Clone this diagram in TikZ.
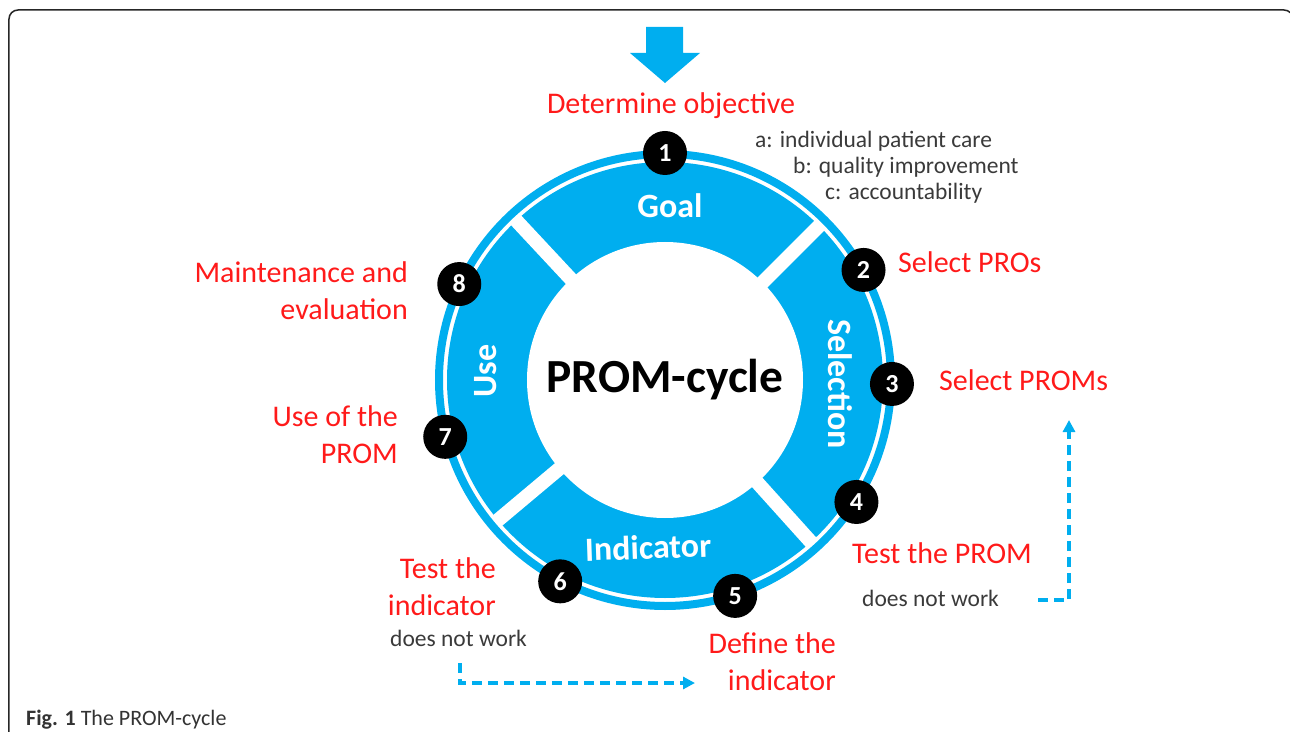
\documentclass[tikz,border=0pt]{standalone}
\usepackage{fontspec}
\setmainfont{Carlito}
\usetikzlibrary{arrows.meta}

\definecolor{promblue}{HTML}{00AEEF}
\definecolor{labelred}{HTML}{FF1A1A}
\definecolor{notegrey}{HTML}{3A3A3A}

\tikzset{
  redlabel/.style={text=labelred, inner sep=0pt, font=\fontsize{30}{37}\selectfont},
  notelabel/.style={text=notegrey, inner sep=0pt, font=\fontsize{23.5}{26}\selectfont},
  seglabel/.style={text=white, inner sep=0pt, font=\bfseries\fontsize{34}{34}\selectfont},
  numdot/.style={circle, fill=black, text=white, minimum size=44pt, inner sep=0pt,
    font=\bfseries\fontsize{26}{26}\selectfont},
  failarrow/.style={promblue, line width=3.5pt, dash pattern=on 10pt off 6pt,
    -{Triangle[length=12pt,width=12pt]}}
}

\begin{document}
\begin{tikzpicture}[x=1pt,y=1pt]
	\useasboundingbox (-665,-351) rectangle (625,380);

	% frame
	\draw[black!85, line width=1.5pt, rounded corners=9pt]
		(-656,-400) -- (-656,370) -- (628,370) -- (628,-400);

	% entry arrow
	\fill[promblue] (-19,353) -- (18,353) -- (18,327) -- (35,327)
		-- (0,297) -- (-35,327) -- (-19,327) -- cycle;

	% ring
	\draw[promblue, line width=8pt] (0,0) circle (226pt);
	\fill[promblue] (0,0) circle (218pt);
	\fill[white] (0,0) circle (138pt);
	\foreach \a in {45,133,-140,-48} {
		\draw[white, line width=14pt] (\a:130) -- (\a:221);
	}

	\node[seglabel] (goal) at (5,174) {Goal};
	\node[seglabel, rotate=-90] (selection) at (175,-4) {Selection};
	\node[seglabel, rotate=2] (indicator) at (-17,-167) {Indicator};
	\node[seglabel, rotate=90] (use) at (-179,9) {Use};

	\node[font=\bfseries\fontsize{47.5}{48}\selectfont] (cycle) at (0,0) {PROM-cycle};

	% step numbers
	\foreach \n/\a in {1/90,2/29,3/-1,4/-32.5,5/-72,6/-117.5,7/-165.5,8/155} {
		\node[numdot] (n\n) at (\a:227) {\n};
	}

	% step labels
	\node[redlabel, anchor=base] (objective) at (6,266) {Determine objective};
	\node[notelabel, anchor=base west] (obja) at (90,232) {a: individual patient care};
	\node[notelabel, anchor=base west] (objb) at (128,206) {b: quality improvement};
	\node[notelabel, anchor=base west] (objc) at (160,180) {c: accountability};

	\node[redlabel, anchor=base west] (pros) at (233,107) {Select PROs};
	\node[redlabel, anchor=base west] (proms) at (274,-10) {Select PROMs};
	\node[redlabel, anchor=base west] (testprom) at (187,-183) {Test the PROM};
	\node[notelabel, anchor=base west] (failprom) at (197,-226) {does not work};
	\node[redlabel, anchor=east, align=right] (define) at (171,-282) {Define the\\indicator};
	\node[redlabel, anchor=east, align=right] (testind) at (-169,-207) {Test the\\indicator};
	\node[notelabel, anchor=base west] (failind) at (-275,-266) {does not work};
	\node[redlabel, anchor=east, align=right] (usage) at (-267,-55) {Use of the\\PROM};
	\node[redlabel, anchor=east, align=right] (maint) at (-257,89) {Maintenance and\\evaluation};

	% loops back when a test fails
	\coordinate (promfrom) at (373,-220);
	\coordinate (promto) at (404,-40);
	\draw[failarrow] (promfrom) -| (promto);
	\coordinate (indfrom) at (-205,-283);
	\coordinate (indto) at (30,-303);
	\draw[failarrow] (indfrom) |- (indto);

	% caption
	\node[anchor=base west, inner sep=0pt, text=black!80, font=\fontsize{22}{26}\selectfont]
		(caption) at (-639,-345) {\textbf{Fig. 1} The PROM-cycle};
\end{tikzpicture}
\end{document}
